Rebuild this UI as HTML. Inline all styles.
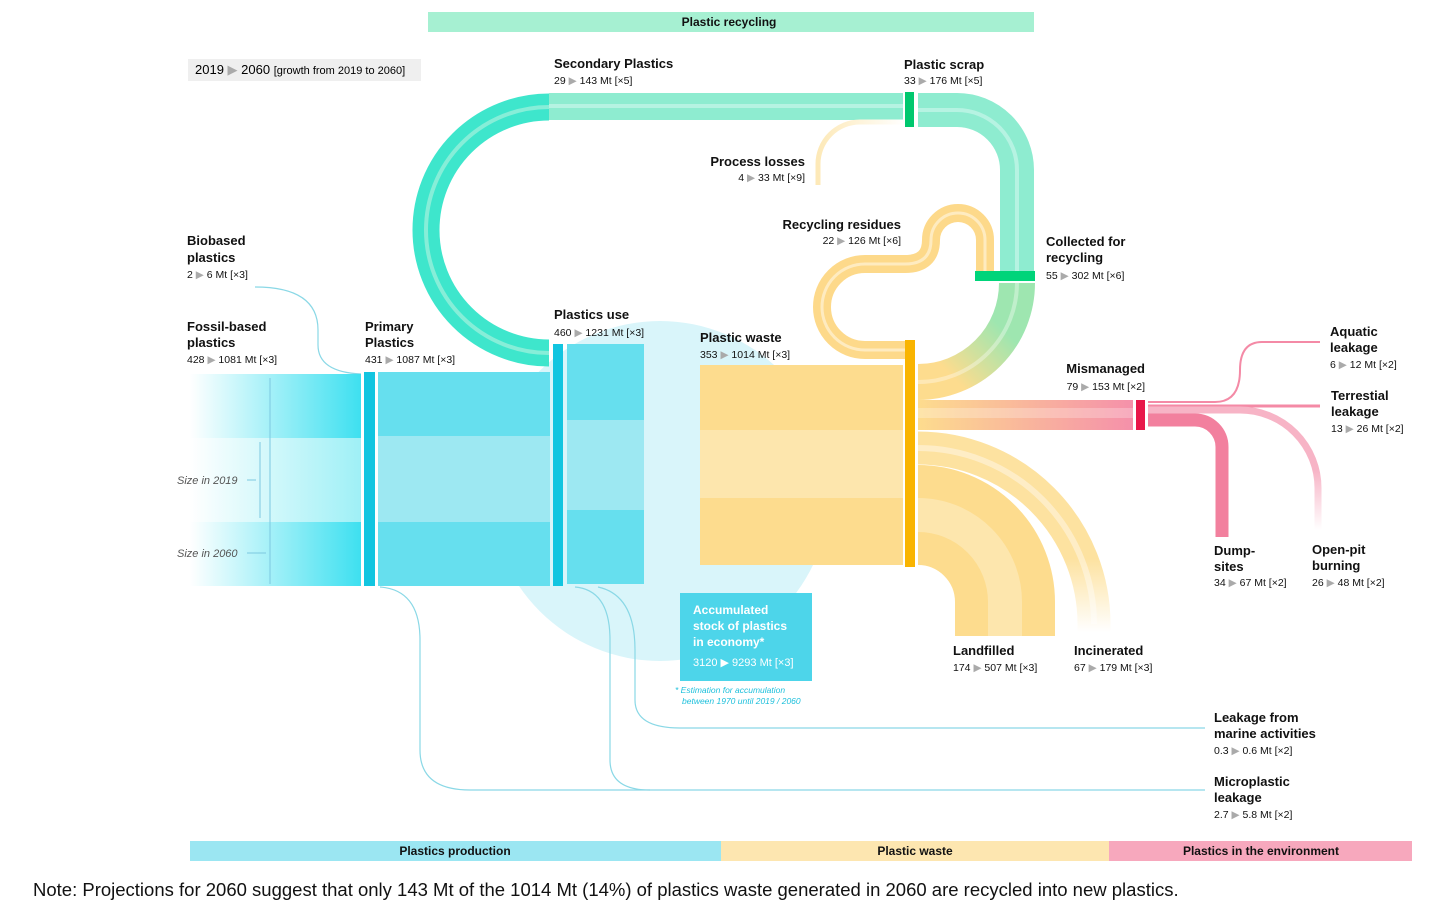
<!DOCTYPE html>
<html><head><meta charset="utf-8"><style>
html,body{margin:0;padding:0;background:#fff;}
svg{display:block;font-family:"Liberation Sans",Arial,sans-serif;}
.t{font-weight:bold;font-size:13px;fill:#111;}
.n{font-size:10.5px;fill:#111;}
.a{fill:#aaa;}
</style></head><body>
<svg width="1456" height="905" viewBox="0 0 1456 905" xmlns="http://www.w3.org/2000/svg">
<defs>
<linearGradient id="fos" x1="0" x2="1"><stop offset="0" stop-color="#fff"/><stop offset="1" stop-color="#3ee0f0"/></linearGradient>
<linearGradient id="fos2" x1="0" x2="1"><stop offset="0" stop-color="#fff"/><stop offset="1" stop-color="#9ff0f6"/></linearGradient>
<linearGradient id="mis" x1="0" x2="1"><stop offset="0" stop-color="#fddc8e"/><stop offset="1" stop-color="#f590aa"/></linearGradient>
<linearGradient id="grn" x1="0" y1="1" x2="1" y2="0"><stop offset="0.2" stop-color="#fddc8e"/><stop offset="0.7" stop-color="#9ee6b0"/></linearGradient>
<linearGradient id="inc" x1="0" y1="0" x2="0" y2="1"><stop offset="0.6" stop-color="#fde2a0"/><stop offset="1" stop-color="#fff"/></linearGradient>
<linearGradient id="pit" x1="0" y1="0" x2="0" y2="1"><stop offset="0.5" stop-color="#f7b4c6"/><stop offset="1" stop-color="#fff"/></linearGradient>
<linearGradient id="pl" x1="0" x2="1"><stop offset="0" stop-color="#fde9b8"/><stop offset="1" stop-color="#fff"/></linearGradient>
</defs>

<!-- top bar -->
<rect x="428" y="12" width="606" height="20" fill="#a6f0d2"/>
<text x="729" y="26" text-anchor="middle" class="n" style="font-weight:bold;font-size:12px">Plastic recycling</text>

<!-- legend -->
<rect x="188" y="59" width="233" height="22" fill="#efefef"/>
<text x="195" y="74" style="font-size:13px">2019 <tspan class="a">▶</tspan> 2060 <tspan style="font-size:11px">[growth from 2019 to 2060]</tspan></text>

<!-- big circle -->
<circle cx="660" cy="491" r="170" fill="#d9f5fa"/>

<!-- thin blue lines -->
<g fill="none" stroke="#8ad8e6" stroke-width="1.2">
<path d="M255 287 Q318 287 318 330 L318 345 Q318 372 361 374"/>
<path d="M380 587 Q420 590 420 640 L420 750 Q420 790 470 790 L1205 790"/>
<path d="M575 587 Q610 590 610 640 L610 760 Q610 790 650 790"/>
<path d="M598 587 Q635 595 635 650 L635 700 Q635 728 680 728 L1205 728"/>
</g>

<!-- fossil -->
<rect x="190" y="374" width="171" height="212" fill="url(#fos)"/>
<rect x="190" y="438" width="171" height="84" fill="url(#fos2)"/>
<g stroke="#7cc8e0" stroke-width="1" fill="none">
<line x1="270" y1="378" x2="270" y2="584"/><line x1="260" y1="442" x2="260" y2="518"/>
<line x1="247" y1="480" x2="256" y2="480"/><line x1="247" y1="553" x2="266" y2="553"/>
</g>
<text x="177" y="484" style="font-size:11px;font-style:italic;fill:#555">Size in 2019</text>
<text x="177" y="557" style="font-size:11px;font-style:italic;fill:#555">Size in 2060</text>

<!-- primary -->
<rect x="364" y="372" width="11" height="214" fill="#12c5e0"/>
<rect x="378" y="372" width="172" height="214" fill="#66dfee"/>
<rect x="378" y="436" width="172" height="86" fill="#9de8f2"/>

<!-- teal loop -->
<path d="M549 107 A123 123 0 0 0 549 353" fill="none" stroke="#3ee6cc" stroke-width="27"/>
<path d="M549 107 A123 123 0 0 0 549 353" fill="none" stroke="#86eed8" stroke-width="4"/>
<rect x="549" y="93" width="354" height="27" fill="#8eecd0"/>
<rect x="549" y="104" width="354" height="4" fill="#b6f3e2"/>
<rect x="905" y="92" width="9" height="35" fill="#00c86e"/>
<path d="M918 110 H957 A60 60 0 0 1 1017 170 V271" fill="none" stroke="#8eecd0" stroke-width="34"/>
<path d="M918 110 H957 A60 60 0 0 1 1017 170 V271" fill="none" stroke="#b6f3e2" stroke-width="4"/>
<!-- process losses -->
<path d="M905 122 H860 A42 42 0 0 0 818 164 V185" fill="none" stroke="url(#pl)" stroke-width="5"/>

<!-- use -->
<rect x="553" y="344" width="10" height="242" fill="#12c5e0"/>
<rect x="567" y="344" width="77" height="240" fill="#66dfee"/>
<rect x="567" y="420" width="77" height="90" fill="#9de8f2"/>

<!-- green arc to waste -->
<path d="M1017 283 A99 99 0 0 1 918 382" fill="none" stroke="url(#grn)" stroke-width="36"/>
<path d="M1017 283 A99 99 0 0 1 918 382" fill="none" stroke="#fff" stroke-opacity="0.35" stroke-width="4"/>
<rect x="975" y="271" width="60" height="10" fill="#00d47a"/>

<!-- recycling residues loop -->
<path d="M905 350 H865 A43 43 0 0 1 865 264 H905 Q931 264 931 240 A27 27 0 0 1 985 240 V271" fill="none" stroke="#fdd98a" stroke-width="18"/>
<path d="M905 350 H865 A43 43 0 0 1 865 264 H905 Q931 264 931 240 A27 27 0 0 1 985 240 V271" fill="none" stroke="#feebc0" stroke-width="3"/>

<!-- waste -->
<rect x="700" y="365" width="203" height="200" fill="#fddc8e"/>
<rect x="700" y="430" width="203" height="68" fill="#fde6ad"/>
<rect x="905" y="340" width="10" height="227" fill="#f9b400"/>

<!-- incinerated -->
<path d="M918 448 A176 176 0 0 1 1094 624 V632" fill="none" stroke="url(#inc)" stroke-width="33"/>
<path d="M918 448 A176 176 0 0 1 1094 624" fill="none" stroke="#fff" stroke-opacity="0.4" stroke-width="6"/>
<!-- landfilled -->
<path d="M918 515 A87 87 0 0 1 1005 602 V636" fill="none" stroke="#fddc8e" stroke-width="100"/>
<path d="M918 515 A87 87 0 0 1 1005 602 V636" fill="none" stroke="#fde6ad" stroke-width="34"/>

<!-- mismanaged -->
<rect x="918" y="400" width="215" height="30" fill="url(#mis)"/>
<rect x="918" y="408" width="215" height="10" fill="#fff" fill-opacity="0.25"/>
<rect x="1136" y="400" width="9" height="30" fill="#e8174a"/>
<g fill="none" stroke="#f48aa6">
<path d="M1148 402 H1215 Q1240 402 1240 370 Q1240 342 1262 342 H1320" stroke-width="2"/>
<path d="M1148 406 H1320" stroke-width="3"/>
<path d="M1148 410 H1240 A78 78 0 0 1 1318 488 V530" stroke="url(#pit)" stroke-width="7"/>
<path d="M1148 420 H1195 A27 27 0 0 1 1222 447 V537" stroke="#f2809e" stroke-width="13"/>
</g>

<!-- accumulated box -->
<rect x="680" y="593" width="132" height="88" fill="#4dd5ea"/>
<g fill="#fff" style="font-weight:bold;font-size:12px">
<text x="693" y="614">Accumulated</text><text x="693" y="630">stock of plastics</text><text x="693" y="646">in economy*</text>
<text x="693" y="666" style="font-weight:normal;font-size:11px">3120 ▶ 9293 Mt [×3]</text></g>
<text x="675" y="693" style="font-size:8.5px;font-style:italic;fill:#1ec0dc">* Estimation for accumulation</text>
<text x="682" y="704" style="font-size:8.5px;font-style:italic;fill:#1ec0dc">between 1970 until 2019 /  2060</text>

<!-- labels -->
<text x="554" y="68" class="t">Secondary Plastics</text><text x="554" y="84" class="n">29 <tspan class="a">▶</tspan> 143 Mt [×5]</text>
<text x="904" y="69" class="t">Plastic scrap</text><text x="904" y="84" class="n">33 <tspan class="a">▶</tspan> 176 Mt [×5]</text>
<text x="805" y="166" class="t" text-anchor="end">Process losses</text><text x="805" y="181" class="n" text-anchor="end">4 <tspan class="a">▶</tspan> 33 Mt [×9]</text>
<text x="901" y="229" class="t" text-anchor="end">Recycling residues</text><text x="901" y="244" class="n" text-anchor="end">22 <tspan class="a">▶</tspan> 126 Mt [×6]</text>
<text x="1046" y="246" class="t">Collected for</text><text x="1046" y="262" class="t">recycling</text><text x="1046" y="279" class="n">55 <tspan class="a">▶</tspan> 302 Mt [×6]</text>
<text x="187" y="245" class="t">Biobased</text><text x="187" y="262" class="t">plastics</text><text x="187" y="278" class="n">2 <tspan class="a">▶</tspan> 6 Mt [×3]</text>
<text x="187" y="331" class="t">Fossil-based</text><text x="187" y="347" class="t">plastics</text><text x="187" y="363" class="n">428 <tspan class="a">▶</tspan> 1081 Mt [×3]</text>
<text x="365" y="331" class="t">Primary</text><text x="365" y="347" class="t">Plastics</text><text x="365" y="363" class="n">431 <tspan class="a">▶</tspan> 1087 Mt [×3]</text>
<text x="554" y="319" class="t">Plastics use</text><text x="554" y="336" class="n">460 <tspan class="a">▶</tspan> 1231 Mt [×3]</text>
<text x="700" y="342" class="t">Plastic waste</text><text x="700" y="358" class="n">353 <tspan class="a">▶</tspan> 1014 Mt [×3]</text>
<text x="1145" y="373" class="t" text-anchor="end">Mismanaged</text><text x="1145" y="390" class="n" text-anchor="end">79 <tspan class="a">▶</tspan> 153 Mt [×2]</text>
<text x="1330" y="336" class="t">Aquatic</text><text x="1330" y="352" class="t">leakage</text><text x="1330" y="368" class="n">6 <tspan class="a">▶</tspan> 12 Mt [×2]</text>
<text x="1331" y="400" class="t">Terrestial</text><text x="1331" y="416" class="t">leakage</text><text x="1331" y="432" class="n">13 <tspan class="a">▶</tspan> 26 Mt [×2]</text>
<text x="1214" y="555" class="t">Dump-</text><text x="1214" y="571" class="t">sites</text><text x="1214" y="586" class="n">34 <tspan class="a">▶</tspan> 67 Mt [×2]</text>
<text x="1312" y="554" class="t">Open-pit</text><text x="1312" y="570" class="t">burning</text><text x="1312" y="586" class="n">26 <tspan class="a">▶</tspan> 48 Mt [×2]</text>
<text x="953" y="655" class="t">Landfilled</text><text x="953" y="671" class="n">174 <tspan class="a">▶</tspan> 507 Mt [×3]</text>
<text x="1074" y="655" class="t">Incinerated</text><text x="1074" y="671" class="n">67 <tspan class="a">▶</tspan> 179 Mt [×3]</text>
<text x="1214" y="722" class="t">Leakage from</text><text x="1214" y="738" class="t">marine activities</text><text x="1214" y="754" class="n">0.3 <tspan class="a">▶</tspan> 0.6 Mt [×2]</text>
<text x="1214" y="786" class="t">Microplastic</text><text x="1214" y="802" class="t">leakage</text><text x="1214" y="818" class="n">2.7 <tspan class="a">▶</tspan> 5.8 Mt [×2]</text>

<!-- bottom bars -->
<rect x="190" y="841" width="531" height="20" fill="#9be6f2"/>
<rect x="721" y="841" width="388" height="20" fill="#fde6b0"/>
<rect x="1109" y="841" width="303" height="20" fill="#f7a8bd"/>
<g style="font-weight:bold;font-size:12px" text-anchor="middle" fill="#111">
<text x="455" y="855">Plastics production</text><text x="915" y="855">Plastic waste</text><text x="1261" y="855">Plastics in the environment</text></g>

<text x="33" y="896" style="font-size:18.5px;fill:#111">Note: Projections for 2060 suggest that only 143 Mt of the 1014 Mt (14%) of plastics waste generated in 2060 are recycled into new plastics.</text>
</svg>
</body></html>
